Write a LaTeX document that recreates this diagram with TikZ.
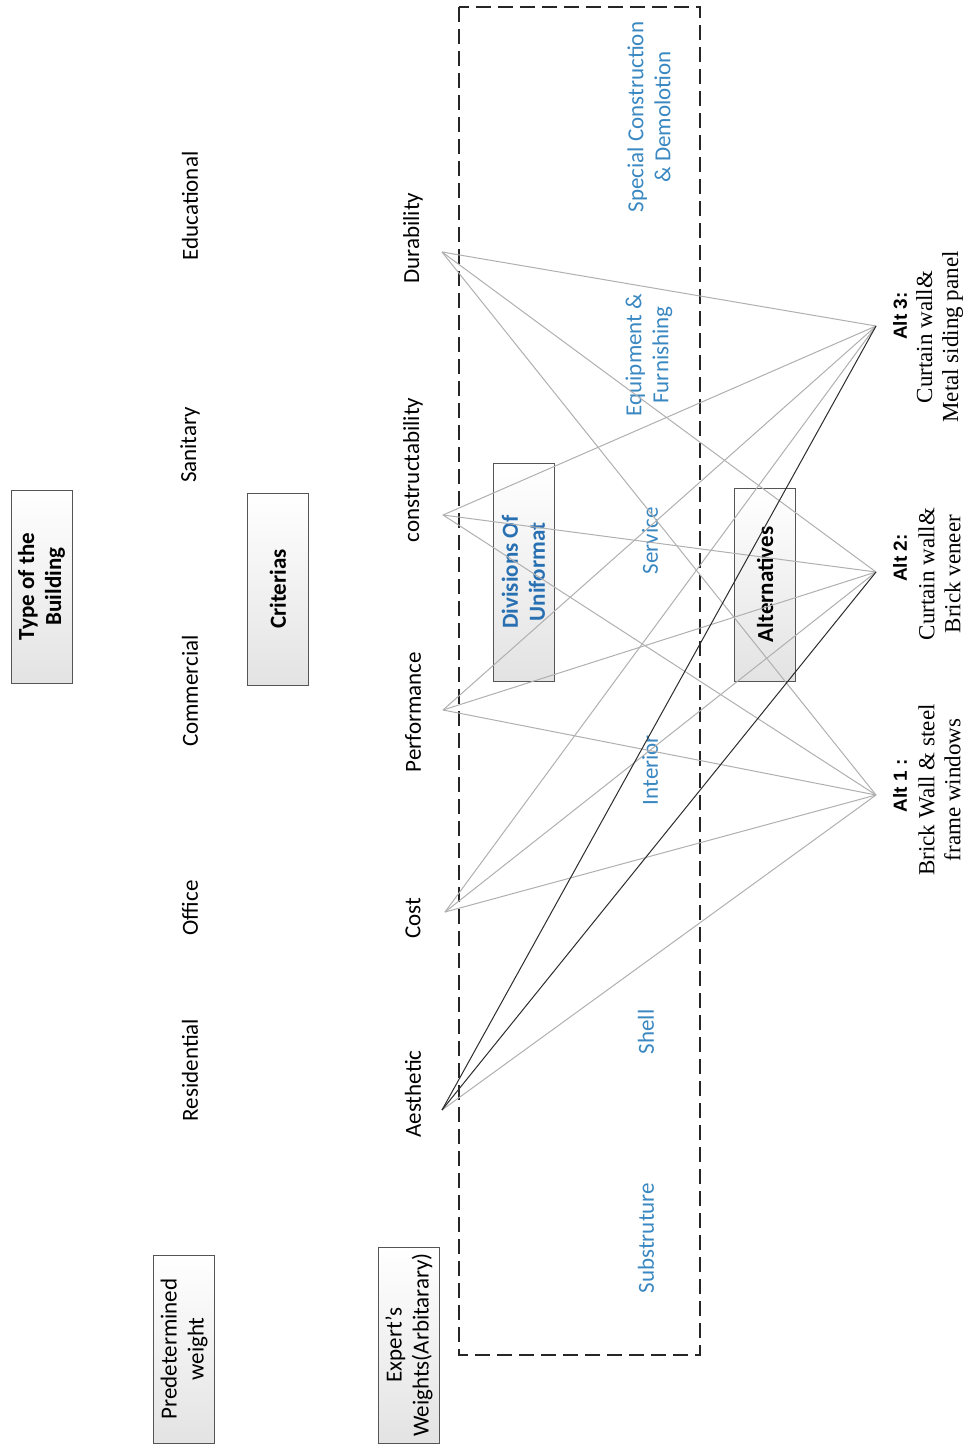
\documentclass[tikz,border=0pt]{standalone}
\usepackage{fontspec}
\setmainfont{Carlito}
\newfontfamily\altsans{Liberation Sans}
\newfontfamily\altserif{Liberation Serif}
\definecolor{divblue}{RGB}{58,136,194}
\definecolor{unifblue}{RGB}{40,112,178}
\definecolor{boxline}{RGB}{85,85,85}
\begin{document}
\begin{tikzpicture}[x=1pt,y=-1pt,
  lbl/.style={rotate=90, font=\fontsize{23}{27}\selectfont, inner sep=0pt, align=center},
  div/.style={lbl, text=divblue},
  boxed/.style={rotate=90, draw=boxline, line width=1pt, top color=white, bottom color=gray!22,
    minimum width=#1, minimum height=61, inner sep=0pt, align=center,
    font=\fontsize{23}{27}\selectfont},
  althead/.style={rotate=90, inner sep=0pt, font=\altsans\bfseries\fontsize{19}{24}\selectfont},
  altdesc/.style={rotate=90, inner sep=0pt, align=center, font=\altserif\fontsize{23}{26}\selectfont},
  link/.style={draw=gray!62, line width=1pt},
  darklink/.style={draw=gray!35!black, line width=1pt},
  frame/.style={draw=gray!30!black, line width=1.3pt, dash pattern=on 15pt off 7pt},
]
\useasboundingbox (0,0) rectangle (972,1447);
\fill[white] (0,0) rectangle (972,1447);

% dashed frame around the divisions
\draw[frame] (459,7) rectangle (700,1355);

% heading boxes
\node[boxed=193, font=\fontsize{23}{27}\selectfont\bfseries] (type) at (41.5,586.5) {Type of the\\Building};
\node[boxed=192, font=\fontsize{23}{27}\selectfont\bfseries] (crit) at (278,589) {Criterias};
\node[boxed=188] (pre) at (184,1349) {Predetermined\\weight};
\node[boxed=196] (exp) at (409,1345) {Expert’s\\Weights(Arbitarary)};
\node[boxed=218, font=\fontsize{23}{27}\selectfont\bfseries, text=unifblue] (unif) at (523.5,572) {Divisions Of\\Uniformat};
\node[boxed=193, font=\fontsize{23}{27}\selectfont\bfseries] (alts) at (765,584.5) {Alternatives};

% building types
\node[lbl] (res) at (190,1070) {Residential};
\node[lbl] (off) at (190,908) {Office};
\node[lbl] (com) at (190,691) {Commercial};
\node[lbl] (san) at (190,445) {Sanitary};
\node[lbl] (edu) at (190,206) {Educational};

% criteria
\node[lbl] (aes) at (413,1094) {Aesthetic};
\node[lbl] (cost) at (413,918) {Cost};
\node[lbl] (perf) at (413,712) {Performance};
\node[lbl] (cons) at (413,470) {constructability};
\node[lbl] (dur) at (413,238) {Durability};

% divisions of uniformat
\node[div] (spec) at (649,117) {Special Construction\\\& Demolotion};
\node[div] (equip) at (649,355) {Equipment \&\\Furnishing};
\node[div] (serv) at (650,541) {Service};
\node[div] (inter) at (650,770) {Interior};
\node[div] (shell) at (646,1032) {Shell};
\node[div] (sub) at (646,1238) {Substruture};

% alternatives
\node[althead] (a3) at (900,316) {Alt 3:};
\node[altdesc] (a3d) at (939.5,337) {Curtain wall\&\\Metal siding panel};
\node[althead] (a2) at (900,558) {Alt 2:};
\node[altdesc] (a2d) at (939.5,574) {Curtain wall\&\\Brick veneer};
\node[althead] (a1) at (900,786) {Alt 1 :};
\node[altdesc] (a1d) at (939.5,790) {Brick Wall \& steel\\frame windows};

% connector end points
\coordinate (pdur) at (442,252);
\coordinate (pcons) at (443,515);
\coordinate (pperf) at (443,710);
\coordinate (pcost) at (445,912);
\coordinate (paes) at (442,1110);
\coordinate (t3) at (876,326);
\coordinate (t2) at (876,572);
\coordinate (t1) at (876,795);

% every criterion linked to every alternative
\foreach \c in {pdur,pcons,pperf,pcost}{
  \foreach \t in {t1,t2,t3}{
    \draw[link] (\c) -- (\t);
  }
}
\draw[link] (paes) -- (t1);
\draw[darklink] (paes) -- (t2);
\draw[darklink] (paes) -- (t3);
\end{tikzpicture}
\end{document}
